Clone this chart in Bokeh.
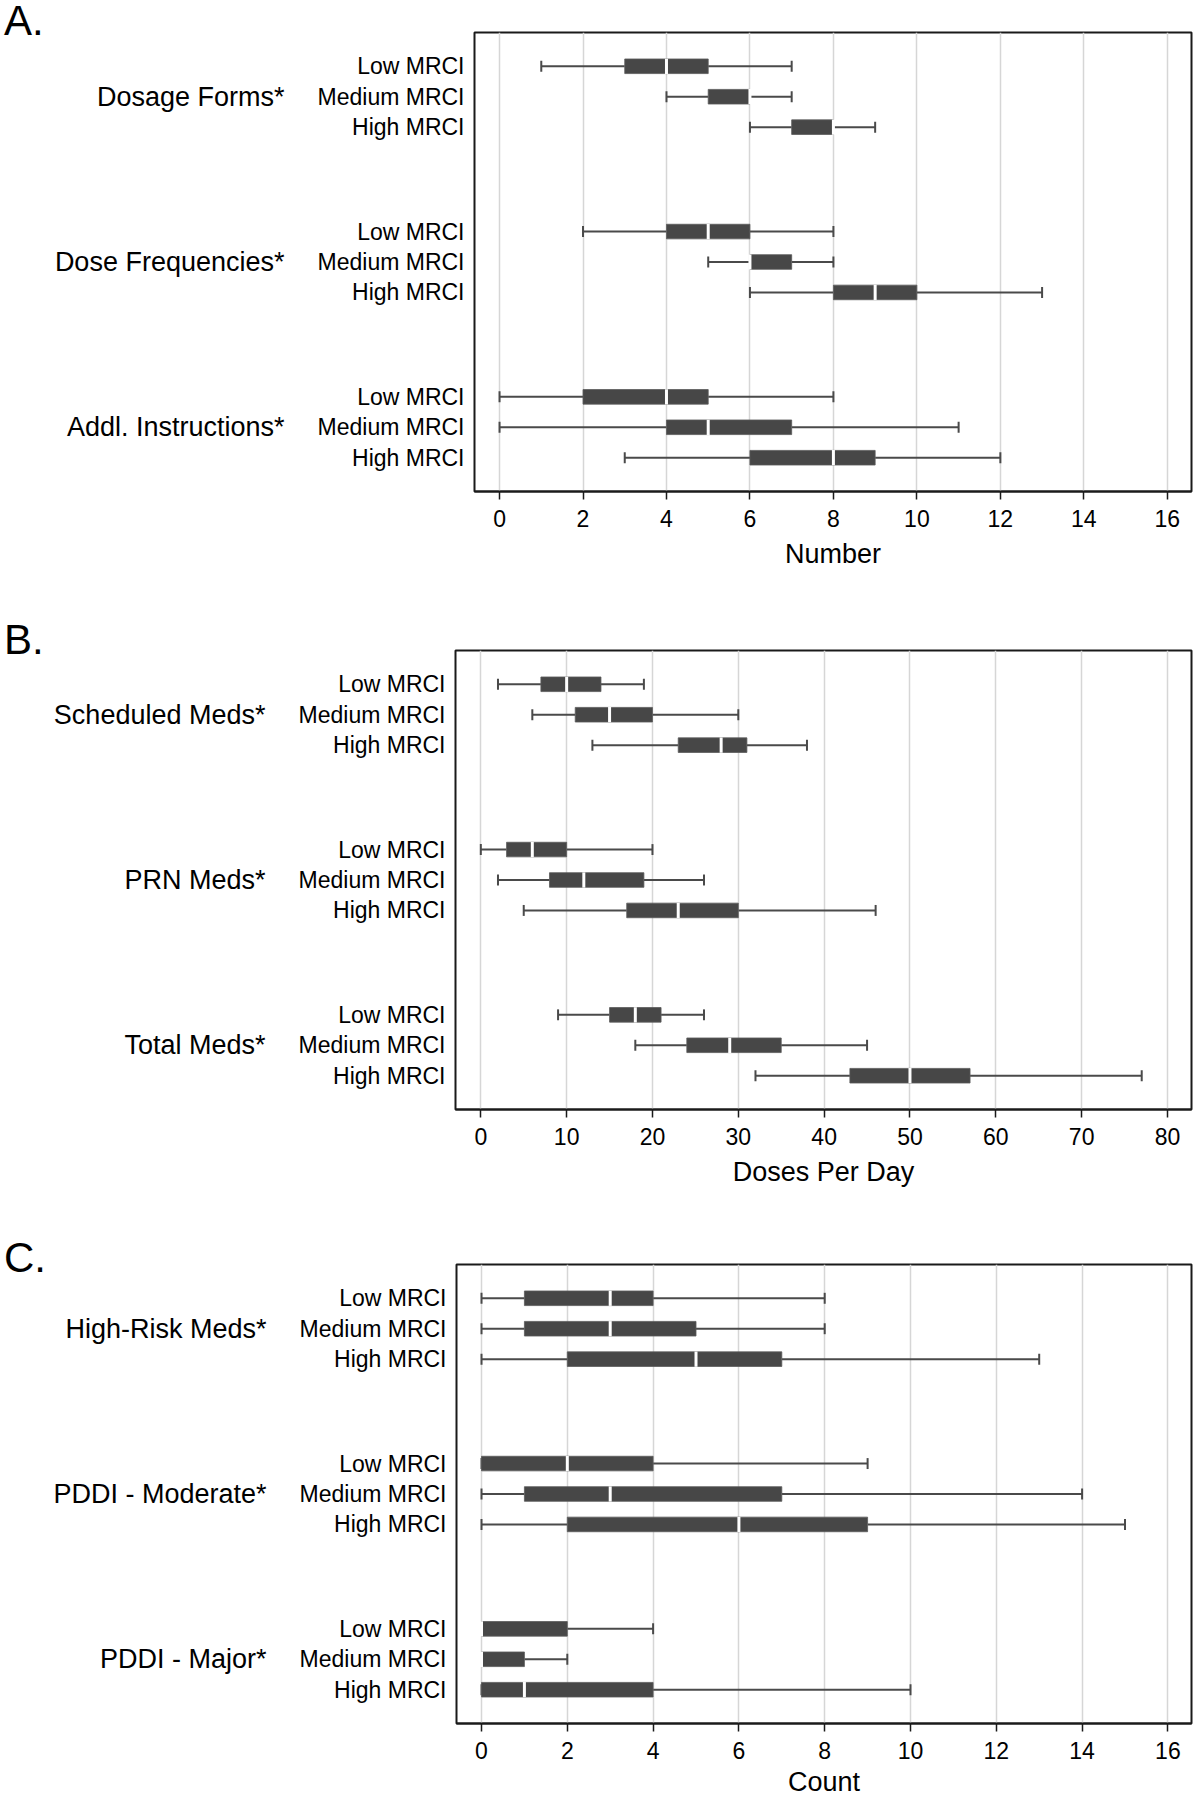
from bokeh.plotting import figure
from bokeh.models import Range1d, FixedTicker, LinearAxis, ColumnDataSource, Div
from bokeh.embed import file_html
from bokeh.resources import INLINE

levels = ["Low MRCI", "Medium MRCI", "High MRCI"]

# Panel A
A_groups = ["Dosage Forms*", "Dose Frequencies*", "Addl. Instructions*"]
A_min = [1, 4, 6, 2, 5, 6, 0, 0, 3]
A_q1 = [3, 5, 7, 4, 6, 8, 2, 4, 6]
A_med = [4, 6, 8, 5, 6, 9, 4, 5, 8]
A_q3 = [5, 6, 8, 6, 7, 10, 5, 7, 9]
A_max = [7, 7, 9, 8, 8, 13, 8, 11, 12]
A_ticks = [0, 2, 4, 6, 8, 10, 12, 14, 16]

# Panel B
B_groups = ["Scheduled Meds*", "PRN Meds*", "Total Meds*"]
B_min = [2, 6, 13, 0, 2, 5, 9, 18, 32]
B_q1 = [7, 11, 23, 3, 8, 17, 15, 24, 43]
B_med = [10, 15, 28, 6, 12, 23, 18, 29, 50]
B_q3 = [14, 20, 31, 10, 19, 30, 21, 35, 57]
B_max = [19, 30, 38, 20, 26, 46, 26, 45, 77]
B_ticks = [0, 10, 20, 30, 40, 50, 60, 70, 80]

# Panel C
C_groups = ["High-Risk Meds*", "PDDI - Moderate*", "PDDI - Major*"]
C_min = [0, 0, 0, 0, 0, 0, 0, 0, 0]
C_q1 = [1, 1, 2, 0, 1, 2, 0, 0, 0]
C_med = [3, 3, 5, 2, 3, 6, 0, 0, 1]
C_q3 = [4, 5, 7, 4, 7, 9, 2, 1, 4]
C_max = [8, 8, 13, 9, 14, 15, 4, 2, 10]
C_ticks = [0, 2, 4, 6, 8, 10, 12, 14, 16]

FONT = "Liberation Sans"
BOX = "#474747"
Y_TOP, Y_BOT = -111, 1397
FRAME_H = 459


def panel(groups, mn, q1, med, q3, mx, ticks, xlabel, xr, frame_left,
          frame_width, border_top, border_bottom, label_standoff):
    rows = [g * 543 + i * 100 for g in range(3) for i in range(3)]
    mids = [g * 543 + 100 for g in range(3)]
    src = ColumnDataSource(dict(
        y=rows, mn=mn, q1=q1, med=med, q3=q3, mx=mx,
        ct=[r - 18 for r in rows], cb=[r + 18 for r in rows],
        mt=[r - 25 for r in rows], mb=[r + 25 for r in rows],
    ))
    p = figure(frame_width=frame_width, frame_height=FRAME_H,
               min_border_left=frame_left, min_border_right=4,
               min_border_top=border_top, min_border_bottom=border_bottom,
               x_range=Range1d(xr[0], xr[1]), y_range=Range1d(Y_BOT, Y_TOP),
               output_backend="svg", toolbar_location=None)
    p.background_fill_color = "white"
    p.border_fill_color = "white"
    p.outline_line_color = "#1a1a1a"
    p.outline_line_width = 2
    p.ygrid.visible = False
    p.xgrid.ticker = FixedTicker(ticks=ticks)
    p.xgrid.grid_line_color = "#d6d6d6"
    p.xgrid.grid_line_width = 1.5

    # whiskers
    p.segment(x0="mn", y0="y", x1="q1", y1="y", source=src, line_color="#4a4a4a", line_width=2)
    p.segment(x0="q3", y0="y", x1="mx", y1="y", source=src, line_color="#4a4a4a", line_width=2)
    p.segment(x0="mn", y0="ct", x1="mn", y1="cb", source=src, line_color="#4a4a4a", line_width=2)
    p.segment(x0="mx", y0="ct", x1="mx", y1="cb", source=src, line_color="#4a4a4a", line_width=2)
    # boxes
    p.hbar(y="y", left="q1", right="q3", height=48, source=src,
           fill_color=BOX, line_color="#5a5a5a", line_width=0.8)
    # medians
    p.segment(x0="med", y0="mt", x1="med", y1="mb", source=src, line_color="white", line_width=3)

    xa = p.xaxis[0]
    xa.ticker = FixedTicker(ticks=ticks)
    xa.axis_label = xlabel
    xa.axis_label_text_font = FONT
    xa.axis_label_text_font_size = "27px"
    xa.axis_label_text_font_style = "normal"
    xa.axis_label_text_color = "black"
    xa.axis_label_standoff = label_standoff
    xa.major_label_text_font = FONT
    xa.major_label_text_font_size = "23px"
    xa.major_label_text_color = "black"
    xa.major_label_standoff = 10
    xa.axis_line_color = "#1a1a1a"
    xa.axis_line_width = 2
    xa.major_tick_out = 8
    xa.major_tick_in = 0
    xa.major_tick_line_width = 1.5
    xa.major_tick_line_color = "#1a1a1a"
    xa.minor_tick_line_color = None

    ya = p.yaxis[0]
    ya.ticker = FixedTicker(ticks=rows)
    ya.major_label_overrides = {r: levels[i % 3] for i, r in enumerate(rows)}
    ya.major_label_text_font = FONT
    ya.major_label_text_font_size = "23px"
    ya.major_label_text_color = "black"
    ya.major_label_standoff = 4
    ya.axis_line_color = None
    ya.major_tick_line_color = None
    ya.minor_tick_line_color = None

    ga = LinearAxis(ticker=FixedTicker(ticks=mids),
                    major_label_overrides={m: groups[i] for i, m in enumerate(mids)},
                    axis_line_color=None, major_tick_line_color=None,
                    minor_tick_line_color=None,
                    major_label_standoff=24,
                    major_label_text_font=FONT,
                    major_label_text_font_size="27px",
                    major_label_text_color="black")
    p.add_layout(ga, "left")
    return p


def letter(text, top):
    return Div(text=text, width=60, height=46,
               styles={"position": "absolute", "left": "4px", "top": f"{top}px",
                       "margin": "0", "padding": "0", "font-family": FONT,
                       "font-size": "42px", "line-height": "42px", "color": "black"})


pA = panel(A_groups, A_min, A_q1, A_med, A_q3, A_max, A_ticks, "Number",
           (-0.6, 16.58), 474, 717, 32, 129, 9)
pB = panel(B_groups, B_min, B_q1, B_med, B_q3, B_max, B_ticks, "Doses Per Day",
           (-2.95, 82.8), 455, 736, 30, 129, 9)
pC = panel(C_groups, C_min, C_q1, C_med, C_q3, C_max, C_ticks, "Count",
           (-0.583, 16.55), 456, 735, 26, 77, 5)

roots = [pA, pB, pC, letter("A.", 0), letter("B.", 619), letter("C.", 1237)]
open("out.html", "w").write(file_html(roots, INLINE))
